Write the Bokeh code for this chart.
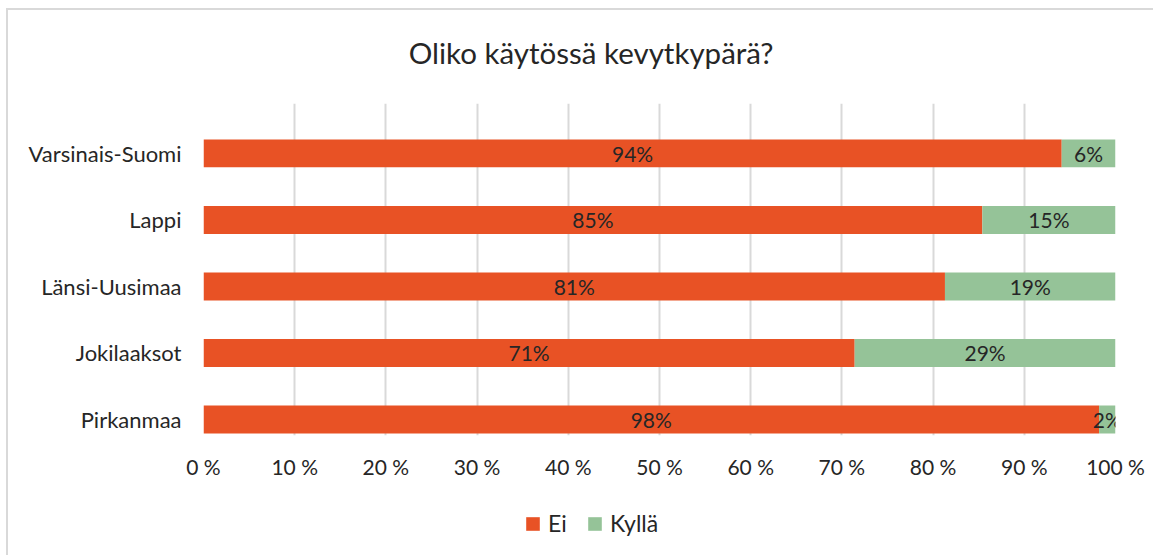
from bokeh.plotting import figure
from bokeh.layouts import column
from bokeh.models import (ColumnDataSource, FixedTicker, PrintfTickFormatter, LabelSet,
                          Label, Legend, LegendItem, Range1d)
from bokeh.core.properties import value
from bokeh.embed import file_html
from bokeh.resources import INLINE

# ---- data (bottom to top) ----
regions = ["Pirkanmaa", "Jokilaaksot", "Länsi-Uusimaa", "Lappi", "Varsinais-Suomi"]
ei = [98.2, 71.4, 81.3, 85.4, 94.1]
kylla = [1.8, 28.6, 18.7, 14.6, 5.9]
x_ticks = [0, 10, 20, 30, 40, 50, 60, 70, 80, 90, 100]
title_text = "Oliko käytössä kevytkypärä?"
series_names = ["Ei", "Kyllä"]

FONT = "Lato"
ORANGE = "#E85225"
GREEN = "#95C398"
TXT = "#262626"

W = 1145
ML = 195
MR = W - ML - 912


def blank_fig(h):
    f = figure(width=W, height=h, output_backend="svg", toolbar_location=None, title=None,
               x_range=Range1d(0, 100), y_range=Range1d(0, 1),
               min_border_left=ML, min_border_right=MR, min_border_top=0, min_border_bottom=0)
    f.xaxis.visible = False
    f.yaxis.visible = False
    f.xgrid.grid_line_color = None
    f.ygrid.grid_line_color = None
    f.outline_line_color = None
    f.background_fill_color = "white"
    f.border_fill_color = "white"
    return f


# ---- title strip ----
tf = blank_fig(93)
tf.add_layout(Label(x=42.5, y=0.55, text=title_text, text_align="center",
                    text_baseline="middle", text_font=FONT, text_font_size="29.5px",
                    text_color=TXT))

# ---- main chart ----
ypos = list(range(len(regions)))
src = ColumnDataSource(dict(
    y=ypos,
    ei_end=ei,
    k_start=ei,
    k_end=[a + b for a, b in zip(ei, kylla)],
    ei_mid=[a / 2 for a in ei],
    k_mid=[a + b / 2 for a, b in zip(ei, kylla)],
    ei_lbl=[f"{round(a)}%" for a in ei],
    k_lbl=[f"{round(b)}%" for b in kylla],
))

p = figure(width=W, height=392, output_backend="svg", toolbar_location=None, title=None,
           x_range=Range1d(0, 100), y_range=Range1d(-0.24, 4.75),
           min_border_left=ML, min_border_right=MR, min_border_top=0, min_border_bottom=60)
p.outline_line_color = None
p.background_fill_color = "white"
p.border_fill_color = "white"

r_ei = p.hbar(y="y", left=0, right="ei_end", height=0.42, source=src,
              fill_color=ORANGE, line_color=None)
r_k = p.hbar(y="y", left="k_start", right="k_end", height=0.42, source=src,
             fill_color=GREEN, line_color=None)

p.xaxis.ticker = FixedTicker(ticks=x_ticks)
p.xaxis.formatter = PrintfTickFormatter(format="%d %%")
p.yaxis.ticker = FixedTicker(ticks=ypos)
p.yaxis.major_label_overrides = {i: r for i, r in enumerate(regions)}
for ax in (p.xaxis, p.yaxis):
    ax.axis_line_color = None
    ax.major_tick_line_color = None
    ax.minor_tick_line_color = None
    ax.major_label_text_font = FONT
    ax.major_label_text_color = TXT
p.xaxis.major_label_text_font_size = "21px"
p.yaxis.major_label_text_font_size = "22px"
p.xaxis.major_label_standoff = 12
p.yaxis.major_label_standoff = 16

p.xgrid.ticker = FixedTicker(ticks=x_ticks)
p.xgrid.grid_line_color = "#d9d9d9"
p.xgrid.grid_line_width = 2
p.ygrid.grid_line_color = None

for xcol, tcol in (("ei_mid", "ei_lbl"), ("k_mid", "k_lbl")):
    p.add_layout(LabelSet(x=xcol, y="y", text=tcol, source=src,
                          text_align="center", text_baseline="middle",
                          text_font=value(FONT), text_font_size=value("21px"),
                          text_color=TXT))

# ---- legend strip ----
lg = blank_fig(60)
hidden = ColumnDataSource(dict(y=[0.5], l=[0], r=[0]))
d1 = lg.hbar(y="y", left="l", right="r", height=0.01, source=hidden,
             fill_color=ORANGE, line_color=None)
d2 = lg.hbar(y="y", left="l", right="r", height=0.01, source=hidden,
             fill_color=GREEN, line_color=None)
legend = Legend(items=[LegendItem(label=series_names[0], renderers=[d1]),
                       LegendItem(label=series_names[1], renderers=[d2])],
                orientation="horizontal", location=(321, 18),
                glyph_width=17, glyph_height=17, label_text_font=FONT,
                label_text_font_size="23px", label_text_color=TXT,
                border_line_color=None, background_fill_alpha=0,
                padding=0, margin=0, spacing=18, label_standoff=7)
lg.add_layout(legend, "center")

layout = column(tf, p, lg, spacing=0)
layout.styles = {"margin-left": "6px", "margin-top": "8px",
                 "border-left": "2px solid #d9d9d9", "border-top": "2px solid #d9d9d9"}

open("out.html", "w").write(file_html(layout, INLINE))
